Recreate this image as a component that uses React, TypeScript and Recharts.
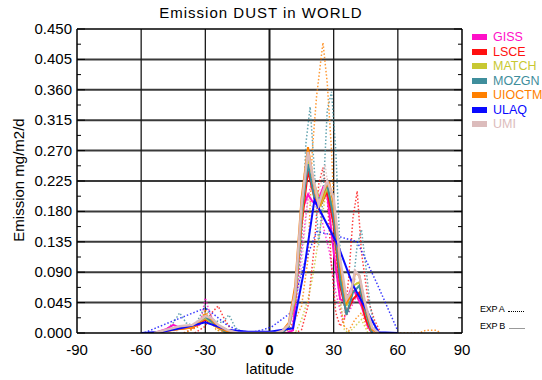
import { LineChart, Line, XAxis, YAxis, ReferenceLine } from "recharts"

// latitude ticks and emission ticks
const xTicks = [-90, -60, -30, 0, 30, 60, 90]
const yMajor = [0, 0.045, 0.09, 0.135, 0.18, 0.225, 0.27, 0.315, 0.36, 0.405, 0.45]
const yMinor = [0.0225, 0.0675, 0.1125, 0.1575, 0.2025, 0.2475, 0.2925, 0.3375, 0.3825, 0.4275]

const models = ["GISS", "LSCE", "MATCH", "MOZGN", "UIOCTM", "ULAQ", "UMI"]
const colors = ["#ff10c8", "#ff1010", "#c8c832", "#3f8e9c", "#ff8000", "#0a0aff", "#dcbcbc"]

// EXP A (dotted), [latitude, emission]
const gissA = [[-40, 0], [-35, 0.008], [-32, 0.02], [-30, 0.052], [-28, 0.03], [-25, 0.01], [-20, 0], [9, 0], [12, 0.03], [15, 0.12], [18, 0.2], [20, 0.23], [22, 0.2], [25, 0.16], [28, 0.12], [31, 0.06], [34, 0.02], [37, 0.03], [40, 0.05], [43, 0.063], [46, 0.03], [49, 0]]
const lsceA = [[-35, 0], [-30, 0.01], [-27, 0.03], [-24, 0.04], [-21, 0.02], [-17, 0], [12, 0], [15, 0.005], [18, 0.04], [21, 0.13], [23, 0.22], [25, 0.245], [27, 0.2], [29, 0.1], [31, 0.03], [33, 0.01], [35, 0.02], [37, 0.08], [39, 0.17], [41, 0.21], [43, 0.12], [46, 0.05], [49, 0.02], [52, 0]]
const matchA = [[-40, 0], [-33, 0.01], [-30, 0.03], [-27, 0.015], [-23, 0], [12, 0], [15, 0.02], [18, 0.05], [20, 0.08], [23, 0.14], [26, 0.2], [28, 0.21], [30, 0.15], [33, 0.05], [35, 0.005], [37, 0], [40, 0.01], [43, 0.02], [46, 0]]
const mozgnA = [[-50, 0], [-45, 0.015], [-42, 0.03], [-39, 0.015], [-35, 0.01], [-30, 0.04], [-27, 0.02], [-22, 0.015], [-19, 0.027], [-16, 0.008], [-12, 0], [6, 0], [9, 0.01], [12, 0.04], [15, 0.13], [17, 0.28], [19, 0.335], [21, 0.24], [23, 0.13], [25, 0.2], [27, 0.33], [29, 0.357], [31, 0.27], [33, 0.12], [35, 0.04], [37, 0.03], [39, 0.07], [41, 0.13], [43, 0.153], [45, 0.1], [47, 0.04], [50, 0]]
const uioctmA = [[-40, 0], [-33, 0.01], [-30, 0.035], [-28, 0.02], [-25, 0.005], [-20, 0], [6, 0], [9, 0.005], [12, 0.02], [15, 0.04], [18, 0.11], [20, 0.27], [22, 0.35], [25, 0.43], [27, 0.37], [29, 0.27], [31, 0.12], [33, 0.04], [35, 0.01], [37, 0.003], [40, 0.02], [43, 0.03], [46, 0.005], [50, 0], [70, 0], [73, 0.004], [78, 0.004], [80, 0]]
const ulaqA = [[-60, 0], [-58, 0.001], [-45, 0.018], [-30, 0.037], [-25, 0.025], [-20, 0.012], [-14, 0.003], [-8, 0.001], [-3, 0.005], [1, 0.009], [10, 0.03], [16, 0.1], [22, 0.15], [30, 0.145], [41, 0.135], [50, 0.075], [60, 0.003]]
const umiA = [[-45, 0], [-40, 0.01], [-35, 0.012], [-30, 0.03], [-27, 0.02], [-22, 0.005], [-18, 0], [9, 0], [12, 0.02], [15, 0.1], [18, 0.2], [21, 0.18], [24, 0.22], [26, 0.25], [28, 0.2], [31, 0.09], [34, 0.03], [37, 0.04], [40, 0.08], [43, 0.06], [46, 0.02], [49, 0]]

// EXP B (solid)
const gissB = [[-54, 0], [-48, 0.006], [-45, 0.012], [-42, 0.008], [-36, 0.01], [-33, 0.012], [-30, 0.02], [-27, 0.015], [-23, 0.006], [-18, 0], [8, 0], [11, 0.004], [15, 0.18], [18, 0.205], [20, 0.195], [22, 0.19], [25, 0.215], [27, 0.204], [30, 0.12], [33, 0.05], [36, 0.045], [38, 0.065], [40, 0.06], [43, 0.04], [46, 0.01], [48, 0]]
const lsceB = [[-54, 0], [-45, 0.005], [-36, 0.008], [-30, 0.02], [-26, 0.012], [-20, 0], [6, 0], [9, 0.01], [12, 0.05], [15, 0.16], [18, 0.24], [21, 0.2], [24, 0.19], [27, 0.21], [30, 0.16], [33, 0.07], [36, 0.03], [39, 0.05], [42, 0.06], [45, 0.02], [48, 0]]
const matchB = [[-54, 0], [-45, 0.006], [-36, 0.01], [-30, 0.022], [-26, 0.012], [-20, 0], [6, 0], [9, 0.01], [12, 0.05], [15, 0.17], [18, 0.26], [21, 0.22], [24, 0.19], [27, 0.215], [30, 0.18], [33, 0.09], [36, 0.04], [39, 0.07], [42, 0.075], [45, 0.03], [48, 0]]
const mozgnB = [[-54, 0], [-45, 0.006], [-36, 0.01], [-30, 0.024], [-26, 0.014], [-20, 0], [6, 0], [9, 0.01], [12, 0.06], [15, 0.18], [18, 0.25], [21, 0.2], [24, 0.2], [27, 0.22], [30, 0.17], [33, 0.08], [36, 0.027], [39, 0.06], [42, 0.07], [45, 0.03], [48, 0]]
const uioctmB = [[-54, 0], [-48, 0.003], [-42, 0.006], [-36, 0.008], [-33, 0.015], [-30, 0.027], [-27, 0.02], [-24, 0.008], [-20, 0.003], [-15, 0], [3, 0], [6, 0.003], [9, 0.015], [12, 0.07], [15, 0.2], [18, 0.275], [21, 0.215], [23, 0.185], [26, 0.215], [28, 0.222], [30, 0.19], [33, 0.1], [36, 0.045], [38, 0.055], [40, 0.09], [42, 0.085], [45, 0.035], [48, 0.005], [51, 0]]
const ulaqB = [[-60, 0], [-50, 0.002], [-40, 0.008], [-30, 0.016], [-20, 0.005], [-10, 0.002], [0, 0.002], [11, 0.007], [16, 0.09], [21, 0.197], [32, 0.13], [39, 0.071], [47, 0.024], [51, 0.001], [60, 0]]
const umiB = [[-54, 0], [-48, 0.005], [-42, 0.01], [-36, 0.012], [-33, 0.018], [-30, 0.025], [-27, 0.022], [-24, 0.012], [-20, 0.005], [-15, 0], [3, 0], [6, 0.003], [9, 0.012], [12, 0.06], [15, 0.19], [18, 0.268], [21, 0.22], [23, 0.19], [25, 0.21], [27, 0.225], [30, 0.2], [33, 0.11], [36, 0.05], [38, 0.06], [40, 0.092], [42, 0.085], [45, 0.04], [48, 0.008], [51, 0]]

const expA = [gissA, lsceA, matchA, mozgnA, uioctmA, ulaqA, umiA]
const expB = [gissB, lsceB, matchB, mozgnB, uioctmB, ulaqB, umiB]

const W = 542
const H = 380
const PL = 77
const PR = 462
const FONT = "'Liberation Sans', Arial, sans-serif"

const toRows = (pts: number[][]) => pts.map(([lat, v]) => ({ lat, v }))

const YTick = (props: any) => {
  const { y, payload } = props
  const major = yMajor.includes(payload.value)
  const len = major ? 8 : 4
  return (
    <g>
      <line x1={PL} x2={PL + len} y1={y} y2={y} stroke="#000" />
      <line x1={PR - len} x2={PR} y1={y} y2={y} stroke="#000" />
      {major && (
        <text x={PL - 5} y={y} dy={5} textAnchor="end" fontSize={15} fill="#000" fontFamily={FONT}>
          {payload.value.toFixed(3)}
        </text>
      )}
    </g>
  )
}

const XTick = (props: any) => {
  const { x, y, payload } = props
  return (
    <text x={x} y={y} dy={14} textAnchor="middle" fontSize={15} fill="#000" fontFamily={FONT}
      fontWeight={payload.value === 0 ? "bold" : "normal"}>
      {payload.value}
    </text>
  )
}

const App = () => {
  return (
    <div style={{ position: "absolute", left: 0, top: 0, width: W, height: H, background: "#fff", fontFamily: FONT }}>
      <LineChart width={W} height={H} margin={{ top: 29, right: W - PR, bottom: 17, left: 0 }}>
        <XAxis dataKey="lat" type="number" domain={[-90, 90]} ticks={xTicks} interval={0} height={30}
          tick={<XTick />} tickLine={false} axisLine={{ stroke: "#000", strokeWidth: 1.5 }}
          allowDataOverflow />
        <YAxis type="number" domain={[0, 0.45]} ticks={[...yMajor, ...yMinor].sort((a, b) => a - b)}
          interval={0} width={PL} tick={<YTick />} tickLine={false}
          axisLine={{ stroke: "#000", strokeWidth: 1.5 }} allowDataOverflow />
        {yMajor.slice(1, -1).map((t) => (
          <ReferenceLine key={"h" + t} y={t} stroke="#3a3a3a" strokeWidth={2} />
        ))}
        {xTicks.slice(1, -1).map((t) => (
          <ReferenceLine key={"v" + t} x={t} stroke="#1a1a1a" strokeWidth={t === 0 ? 2 : 1.3} />
        ))}
        <ReferenceLine y={0.45} stroke="#000" strokeWidth={1.5} />
        <ReferenceLine x={90} stroke="#000" strokeWidth={1.5} />
        {expA.map((pts, i) => (
          <Line key={"a" + i} data={toRows(pts)} dataKey="v" type="linear" stroke={colors[i]}
            strokeWidth={1.5} strokeDasharray="1.5 2" strokeOpacity={0.8} dot={false}
            isAnimationActive={false} />
        ))}
        {expB.map((pts, i) => (
          <Line key={"b" + i} data={toRows(pts)} dataKey="v" type="linear" stroke={colors[i]}
            strokeWidth={i === 6 ? 2.5 : 2} dot={false} isAnimationActive={false} />
        ))}
      </LineChart>

      <div style={{ position: "absolute", left: 0, width: W - 20, top: 4, textAlign: "center", fontSize: 15, letterSpacing: 1 }}>
        Emission DUST in WORLD
      </div>
      <div style={{ position: "absolute", left: 270 - 60, width: 120, top: 360, textAlign: "center", fontSize: 15 }}>
        latitude
      </div>
      <div style={{ position: "absolute", left: 18, top: 180, transform: "translate(-50%, -50%) rotate(-90deg)", whiteSpace: "nowrap", fontSize: 15 }}>
        Emission mg/m2/d
      </div>

      {models.map((m, i) => (
        <div key={m} style={{ position: "absolute", left: 472, top: 30 + i * 14.5, height: 14, display: "flex", alignItems: "center" }}>
          <div style={{ width: 15, height: 6, background: colors[i], marginRight: 6 }} />
          <span style={{ color: colors[i], fontSize: 12.5 }}>{m}</span>
        </div>
      ))}

      <div style={{ position: "absolute", left: 480, top: 304, fontSize: 9, letterSpacing: -0.3 }}>
        EXP A <span style={{ display: "inline-block", width: 16, borderBottom: "1px dotted #000", marginLeft: 2 }} />
      </div>
      <div style={{ position: "absolute", left: 480, top: 321, fontSize: 9, letterSpacing: -0.3 }}>
        EXP B <span style={{ display: "inline-block", width: 16, borderBottom: "1px solid #999", marginLeft: 2 }} />
      </div>
    </div>
  )
}

export default App
